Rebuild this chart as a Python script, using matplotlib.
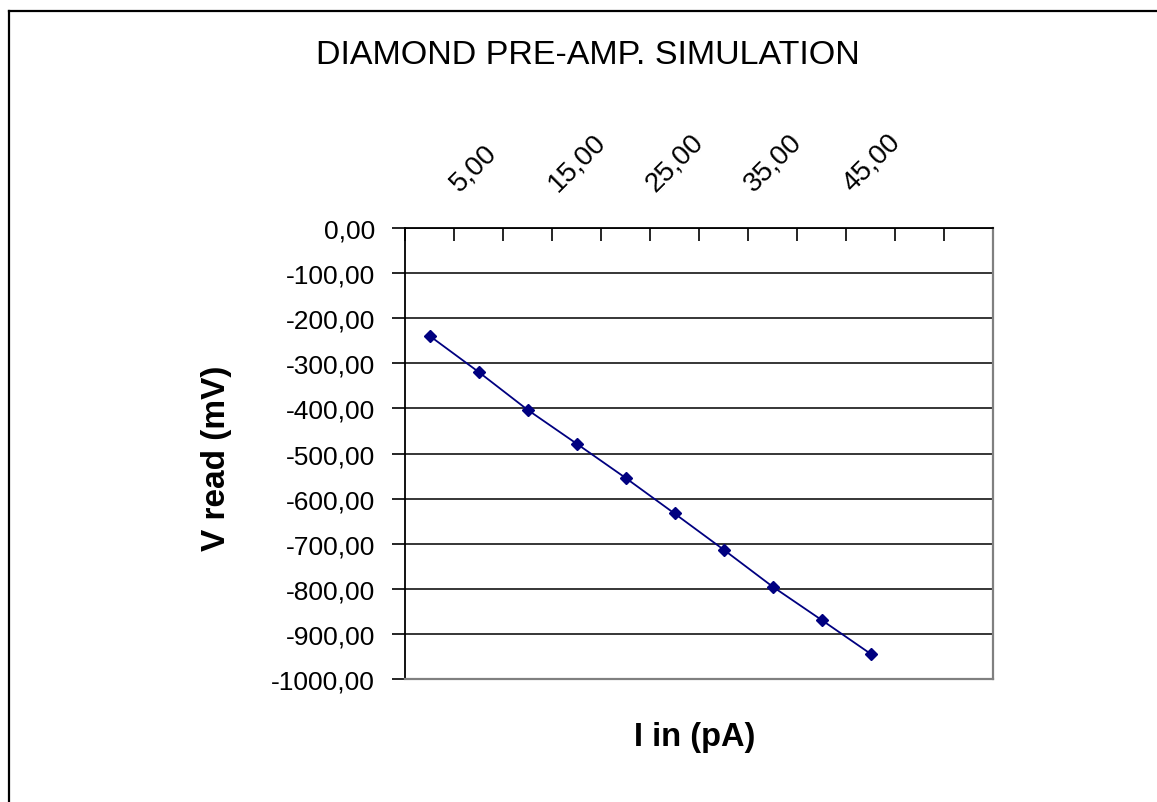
"""Diamond pre-amp simulation -- V read vs I in, Excel-style line chart."""

import matplotlib

matplotlib.use("Agg")
import matplotlib.pyplot as plt
from matplotlib.lines import Line2D
from matplotlib.transforms import ScaledTranslation
import numpy as np

# category axis (pA) and measured output (mV); last two categories are empty
i_in = [0, 5, 10, 15, 20, 25, 30, 35, 40, 45, 50, 55]
v_read = [-239, -319, -403, -478, -554, -633, -713, -795, -869, -944, np.nan, np.nan]
shown_labels = [5, 15, 25, 35, 45]
y_ticks = [0, -100, -200, -300, -400, -500, -600, -700, -800, -900, -1000]

plt.rcParams["font.family"] = ["Liberation Sans", "DejaVu Sans"]

W, H = 1157, 803
fig = plt.figure(figsize=(W / 100, H / 100), dpi=100)

# plot area in pixels: x 405..993, y 229..680
ax = fig.add_axes([405 / W, 1 - 680 / H, 588 / W, 451 / H])

n = len(i_in)
xs = np.arange(n)
ax.plot(xs, v_read, color="#000080", linewidth=1.3, marker="D", markersize=6.5,
        markerfacecolor="#000080", markeredgecolor="#000080")

ax.set_xlim(-0.5, n - 0.5)
ax.set_ylim(-1000, 0)

# value axis
ax.set_yticks(y_ticks)
ax.set_yticklabels([f"{v:.2f}".replace(".", ",") for v in y_ticks], fontsize=19)
ax.tick_params(axis="y", direction="out", length=9.5, width=1.2, pad=12, color="black")
ax.yaxis.grid(True, color="black", linewidth=1.1)

# category axis on top: ticks between categories, labels on every other one
ax.xaxis.set_ticks_position("top")
ax.set_xticks(np.arange(-0.5, n, 1.0))
ax.set_xticklabels([])
ax.tick_params(axis="x", direction="in", length=9.5, width=1.2, color="black")
shift = ScaledTranslation(-19 / 100, 36 / 100, fig.dpi_scale_trans)
for k, cat in enumerate(i_in):
    if cat in shown_labels:
        ax.text(k, 0, f"{cat:.2f}".replace(".", ","), transform=ax.transData + shift,
                rotation=45, rotation_mode="anchor", ha="left", va="baseline",
                fontsize=20, clip_on=False)

for side in ("left", "top"):
    ax.spines[side].set_color("black")
    ax.spines[side].set_linewidth(1.3)
for side in ("right", "bottom"):
    ax.spines[side].set_color("#808080")
    ax.spines[side].set_linewidth(1.6)

fig.text(588 / W, 1 - 55 / H, "DIAMOND PRE-AMP. SIMULATION", ha="center",
         va="center", fontsize=24.5)
fig.text(695 / W, 1 - 738 / H, "I in (pA)", ha="center", va="center",
         fontsize=23.5, fontweight="bold")
fig.text(216 / W, 1 - 458 / H, "V read (mV)", ha="center", va="center",
         fontsize=24, fontweight="bold", rotation=90)

# chart-area border (only top and left edges fall inside the image)
fig.add_artist(Line2D([9 / W, 9 / W], [0, 1 - 12 / H], color="black", linewidth=1.6))
fig.add_artist(Line2D([9 / W, 1], [1 - 12 / H, 1 - 12 / H], color="black", linewidth=1.6))

fig.savefig("out.png", dpi=100)
plt.close(fig)
